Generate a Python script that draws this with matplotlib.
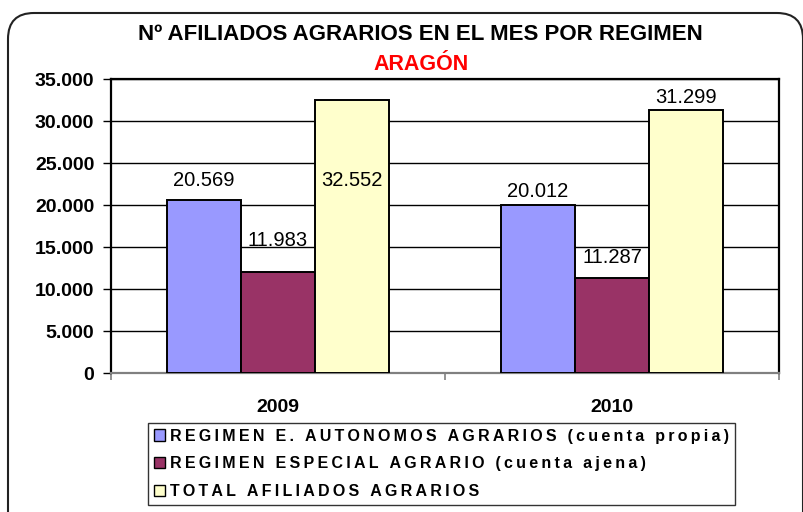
import matplotlib
matplotlib.use("Agg")
import matplotlib.pyplot as plt
from matplotlib.patches import FancyBboxPatch
from matplotlib.transforms import IdentityTransform
from matplotlib.ticker import FuncFormatter

# Afiliados agrarios por régimen, Aragón
years = ["2009", "2010"]
series_names = [
    "REGIMEN E. AUTONOMOS AGRARIOS (cuenta propia)",
    "REGIMEN ESPECIAL AGRARIO (cuenta ajena)",
    "TOTAL AFILIADOS AGRARIOS",
]
autonomos = [20569, 20012]
especial = [11983, 11287]
total = [32552, 31299]
y_ticks = [0, 5000, 10000, 15000, 20000, 25000, 30000, 35000]

colors = ["#9999FF", "#993366", "#FFFFCC"]
# vertical offset of each value label from its bar top, in points (per year)
label_offsets = [[14, 10], [23, 15], [-58, 9]]

plt.rcParams["font.family"] = ["Liberation Sans", "DejaVu Sans"]


def spaced(s):
    # widen the tracking of legend entries with thin spaces
    return "\u2009".join(s)


def miles(v):
    return f"{int(v):,}".replace(",", ".")


fig = plt.figure(figsize=(8.04, 5.12), dpi=100)
ax = fig.add_axes([111 / 804, 139 / 512, 668 / 804, 294 / 512])

width = 1 / 4.5
x = list(range(len(years)))
for i, (vals, col) in enumerate(zip([autonomos, especial, total], colors)):
    xs = [xi + (i - 1) * width for xi in x]
    ax.bar(xs, vals, width, color=col, edgecolor="black", linewidth=1.4,
           label=spaced(series_names[i]), zorder=3)
    for xv, v, off in zip(xs, vals, label_offsets[i]):
        ax.annotate(miles(v), (xv, v), xytext=(0, off), textcoords="offset points",
                    ha="center", va="center", fontsize=14.5, zorder=4)

ax.set_xlim(-0.5, len(years) - 0.5)
ax.set_ylim(0, 35000)
ax.set_yticks(y_ticks)
ax.yaxis.set_major_formatter(FuncFormatter(lambda v, _: miles(v)))
ax.set_xticks([-0.5, 0.5, 1.5])
ax.set_xticklabels([])
ax.tick_params(axis="x", direction="out", length=5, color="#808080", width=1.2)
ax.tick_params(axis="y", direction="out", length=6, color="black", width=1,
               labelsize=14, pad=6)
for lab in ax.get_yticklabels():
    lab.set_fontweight("bold")

for xi, yr in zip(x, years):
    ax.text(xi, -0.118, yr, transform=ax.get_xaxis_transform(), ha="center",
            va="center", fontsize=14, fontweight="bold")

ax.grid(axis="y", color="black", linewidth=1, zorder=0)
ax.set_axisbelow(True)
for side in ["left", "top", "right"]:
    ax.spines[side].set_color("black")
    ax.spines[side].set_linewidth(1.6)
ax.spines["bottom"].set_color("#808080")
ax.spines["bottom"].set_linewidth(1.6)

fig.text(420 / 804, 1 - 34 / 512, "Nº AFILIADOS AGRARIOS EN EL MES POR REGIMEN",
         ha="center", va="center", fontsize=16, fontweight="bold")
fig.text(421 / 804, 1 - 65 / 512, "ARAGÓN", ha="center", va="center",
         fontsize=15.5, fontweight="bold", color="#FF0000")

leg = fig.legend(loc="upper left",
                 bbox_to_anchor=(148 / 804, 4 / 512, 587 / 804, 85 / 512),
                 mode="expand", ncol=1, frameon=True, fancybox=False,
                 edgecolor="black", handlelength=0.7, handleheight=0.7,
                 handletextpad=0.35, borderaxespad=0, labelspacing=0.8,
                 borderpad=0.35, prop={"size": 11.5, "weight": "bold"})
leg.get_frame().set_linewidth(1.0)
for h in leg.legend_handles:
    h.set_linewidth(1.0)

# rounded chart frame, open past the right and bottom edges
frame = FancyBboxPatch((8, -60), 795, 512 - 13 + 60,
                       boxstyle="round,pad=0,rounding_size=26",
                       transform=IdentityTransform(), facecolor="none",
                       edgecolor="#222222", linewidth=1.5)
fig.add_artist(frame)

fig.savefig("out.png", dpi=100)
